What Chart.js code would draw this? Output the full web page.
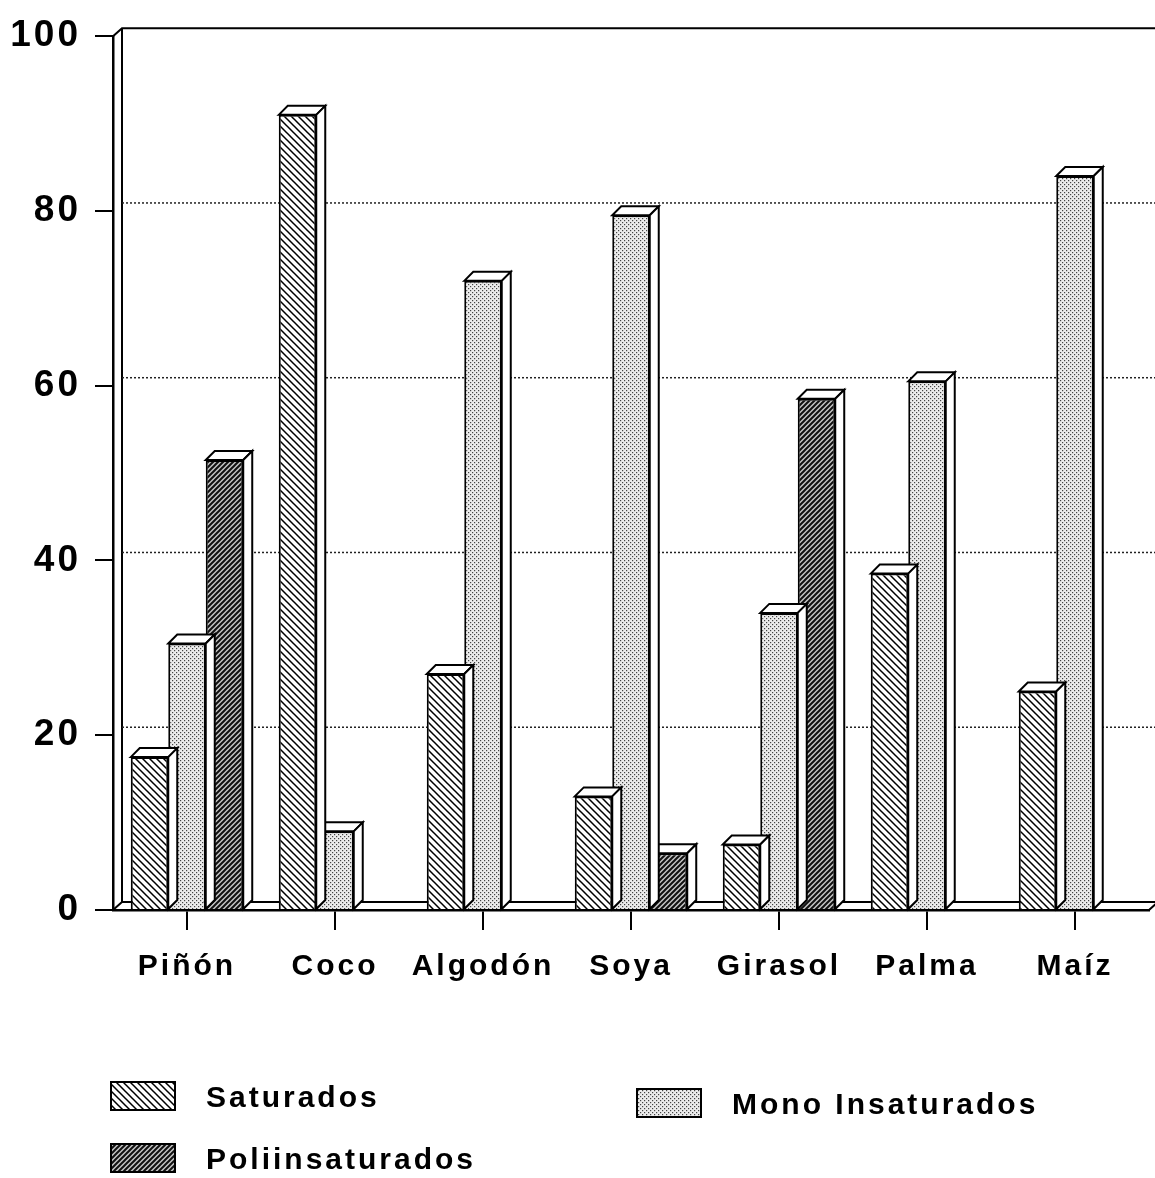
<!DOCTYPE html>
<html>
<head>
<meta charset="utf-8">
<script src="https://cdn.jsdelivr.net/npm/chart.js@4.4.0/dist/chart.umd.min.js"></script>
<style>
  html, body { margin: 0; padding: 0; background: #fff; }
  canvas { display: block; }
</style>
</head>
<body>
<canvas id="fatChart" width="1155" height="1178"></canvas>
<script>
// data (% of fatty acids)
const categories = ['Piñón', 'Coco', 'Algodón', 'Soya', 'Girasol', 'Palma', 'Maíz'];
const saturados = [17.5, 91, 27, 13, 7.5, 38.5, 25];
const monoInsaturados = [30.5, 9, 72, 79.5, 34, 60.5, 84];
const poliinsaturados = [51.5, null, null, 6.5, 58.5, null, null];
const yTicks = [0, 20, 40, 60, 80, 100];

const DEPTH = 9;
const LABEL_FONT = 'bold 30px "Liberation Sans", Arial, sans-serif';

// hatch / dot fills like the old plotter patterns
function makePattern(kind) {
    const c = document.createElement('canvas');
    const ctx = c.getContext('2d');
    if (kind === 'back') {
        c.width = 7; c.height = 7;
        ctx.fillStyle = '#fff';
        ctx.fillRect(0, 0, 7, 7);
        ctx.strokeStyle = '#000';
        ctx.lineWidth = 1.5;
        ctx.beginPath();
        ctx.moveTo(-1, -1); ctx.lineTo(8, 8);
        ctx.moveTo(-8, -1); ctx.lineTo(1, 8);
        ctx.moveTo(6, -1); ctx.lineTo(15, 8);
        ctx.stroke();
    } else if (kind === 'fwd') {
        c.width = 5; c.height = 5;
        ctx.fillStyle = '#c4c4c4';
        ctx.fillRect(0, 0, 5, 5);
        ctx.strokeStyle = '#111';
        ctx.lineWidth = 2;
        ctx.beginPath();
        ctx.moveTo(-1, 6); ctx.lineTo(6, -1);
        ctx.moveTo(-6, 6); ctx.lineTo(1, -1);
        ctx.moveTo(4, 6); ctx.lineTo(11, -1);
        ctx.stroke();
    } else {
        c.width = 4; c.height = 4;
        ctx.fillStyle = '#ececec';
        ctx.fillRect(0, 0, 4, 4);
        ctx.fillStyle = '#444';
        ctx.fillRect(0, 0, 1.2, 1.2);
        ctx.fillRect(2, 2, 1.2, 1.2);
    }
    return ctx.createPattern(c, 'repeat');
}

// back wall, floor and dotted gridlines, drawn behind the bars
const wallPlugin = {
    id: 'wall',
    beforeDatasetsDraw(chart) {
        const { ctx, chartArea: a, scales } = chart;
        const d = DEPTH;
        ctx.save();
        ctx.strokeStyle = '#000';
        ctx.lineWidth = 2;
        ctx.beginPath();
        ctx.moveTo(a.left, a.top); ctx.lineTo(a.left + d, a.top - d + 1);
        ctx.lineTo(chart.width, a.top - d + 1);
        ctx.moveTo(a.left + d, a.top - d + 1); ctx.lineTo(a.left + d, a.bottom - d + 1);
        ctx.moveTo(a.left, a.bottom); ctx.lineTo(a.left + d, a.bottom - d + 1);
        ctx.lineTo(a.right + d, a.bottom - d + 1); ctx.lineTo(a.right, a.bottom);
        ctx.stroke();
        ctx.setLineDash([2, 2]);
        ctx.lineWidth = 1.5;
        ctx.strokeStyle = '#222';
        yTicks.slice(1, -1).forEach(v => {
            const y = scales.y.getPixelForValue(v) - d + 1;
            ctx.beginPath();
            ctx.moveTo(a.left + d, y);
            ctx.lineTo(chart.width, y);
            ctx.stroke();
        });
        ctx.restore();
    }
};

// top and side faces, after each dataset so the next bar hides the side
const bar3dPlugin = {
    id: 'bar3d',
    afterDatasetDraw(chart, args) {
        const ctx = chart.ctx;
        const d = DEPTH;
        ctx.save();
        ctx.strokeStyle = '#000';
        ctx.lineWidth = 2;
        ctx.fillStyle = '#fff';
        args.meta.data.forEach((el, i) => {
            const v = chart.data.datasets[args.index].data[i];
            if (v === null || v === undefined) return;
            const { x, y, base, width } = el.getProps(['x', 'y', 'base', 'width'], true);
            const l = x - width / 2, r = x + width / 2;
            ctx.beginPath();
            ctx.moveTo(l, y); ctx.lineTo(l + d, y - d);
            ctx.lineTo(r + d, y - d); ctx.lineTo(r, y);
            ctx.closePath();
            ctx.fill(); ctx.stroke();
            ctx.beginPath();
            ctx.moveTo(r, y); ctx.lineTo(r + d, y - d);
            ctx.lineTo(r + d, base - d); ctx.lineTo(r, base);
            ctx.closePath();
            ctx.fill(); ctx.stroke();
        });
        ctx.restore();
    }
};

// legend laid out in two columns like the original
const legendPlugin = {
    id: 'boxLegend',
    afterDraw(chart) {
        const ctx = chart.ctx;
        const spots = [
            { x: 111, y: 1082 },
            { x: 637, y: 1089 },
            { x: 111, y: 1144 }
        ];
        ctx.save();
        chart.data.datasets.forEach((ds, i) => {
            const p = spots[i];
            ctx.fillStyle = ds.backgroundColor;
            ctx.fillRect(p.x, p.y, 64, 28);
            ctx.strokeStyle = '#000';
            ctx.lineWidth = 2;
            ctx.strokeRect(p.x, p.y, 64, 28);
            ctx.fillStyle = '#000';
            ctx.font = LABEL_FONT;
            ctx.letterSpacing = '3px';
            ctx.textBaseline = 'middle';
            ctx.fillText(ds.label, p.x + 95, p.y + 17);
        });
        ctx.restore();
    }
};

const letterSpacingPlugin = {
    id: 'spacing',
    beforeDraw(chart) { chart.ctx.letterSpacing = '3px'; }
};

const ctx = document.getElementById('fatChart').getContext('2d');
const chart = new Chart(ctx, {
    type: 'bar',
    data: {
        labels: categories,
        datasets: [
            { label: 'Saturados', data: saturados, backgroundColor: makePattern('back') },
            { label: 'Mono Insaturados', data: monoInsaturados, backgroundColor: makePattern('dots') },
            { label: 'Poliinsaturados', data: poliinsaturados, backgroundColor: makePattern('fwd') }
        ].map(ds => Object.assign(ds, {
            borderColor: '#000',
            borderWidth: 2,
            categoryPercentage: 0.76,
            barPercentage: 1.0
        }))
    },
    options: {
        responsive: false,
        animation: false,
        layout: { padding: { top: 28, right: 6, left: 0, bottom: 0 } },
        plugins: {
            legend: { display: false },
            tooltip: { enabled: false }
        },
        scales: {
            x: {
                offset: true,
                grid: {
                    offset: false,
                    drawOnChartArea: false,
                    drawTicks: true,
                    tickLength: 20,
                    color: '#000',
                    lineWidth: 2
                },
                border: { display: true, color: '#000', width: 2.5 },
                ticks: {
                    color: '#000',
                    font: { family: '"Liberation Sans", Arial, sans-serif', size: 30, weight: 'bold' },
                    padding: 19,
                    maxRotation: 0
                },
                afterFit(scale) { scale.height = 268; }
            },
            y: {
                min: 0,
                max: 100,
                afterBuildTicks(scale) { scale.ticks = yTicks.map(v => ({ value: v })); },
                grid: {
                    drawOnChartArea: false,
                    drawTicks: true,
                    tickLength: 18,
                    color: '#000',
                    lineWidth: 2
                },
                border: { display: true, color: '#000', width: 2.5 },
                ticks: {
                    color: '#000',
                    font: { family: '"Liberation Sans", Arial, sans-serif', size: 37, weight: 'bold' },
                    padding: 14
                },
                afterFit(scale) { scale.width = 113; }
            }
        }
    },
    plugins: [letterSpacingPlugin, wallPlugin, bar3dPlugin, legendPlugin]
});
</script>
</body>
</html>
